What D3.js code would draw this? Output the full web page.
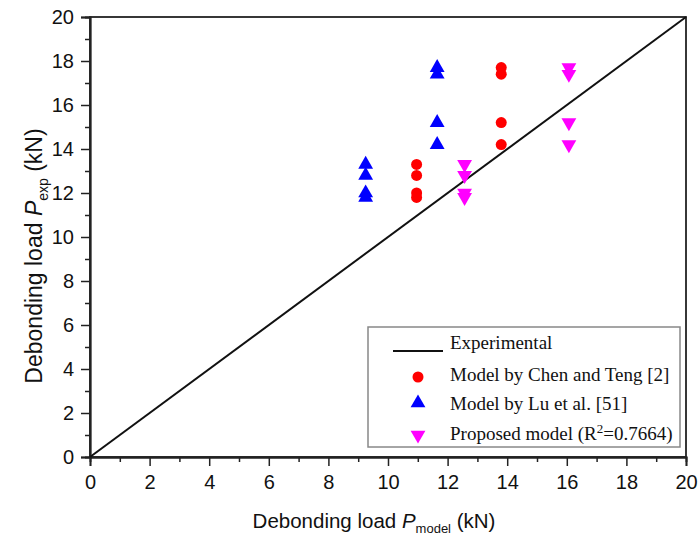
<!DOCTYPE html>
<html>
<head>
<meta charset="utf-8">
<script src="https://cdn.jsdelivr.net/npm/d3@7"></script>
<style>
  html, body { margin: 0; padding: 0; background: #fff; }
  svg { display: block; }
</style>
</head>
<body>
<svg id="chart" width="700" height="540"></svg>
<script>
// Experimental debonding loads (kN) for the eight specimens
const pExp = [13.3, 12.8, 12.0, 11.8, 17.7, 17.4, 15.2, 14.2];
// Predicted debonding loads (kN) from each model
const chenTeng = [10.96, 10.96, 10.96, 10.96, 13.8, 13.8, 13.8, 13.8];
const luEtAl   = [9.25, 9.25, 9.25, 9.25, 11.65, 11.65, 11.65, 11.65];
const proposed = [12.57, 12.57, 12.57, 12.57, 16.07, 16.07, 16.07, 16.07];
// Line of equality (experimental = predicted)
const equality = [[0, 0], [20, 20]];
const majorTicks = [0, 2, 4, 6, 8, 10, 12, 14, 16, 18, 20];
const minorTicks = d3.range(1, 20, 2);
const legendLabels = [
  "Experimental",
  "Model by Chen and Teng [2]",
  "Model by Lu et al. [51]",
  "Proposed model (R2=0.7664)"
];

const svg = d3.select("#chart");
const plotL = 90, plotR = 686, plotT = 17, plotB = 457;

const x = d3.scaleLinear().domain([0, 20]).range([plotL, plotR]);
const y = d3.scaleLinear().domain([0, 20]).range([plotB, plotT]);

const axisFont = "'Liberation Sans', Arial, sans-serif";
const legendFont = "'Liberation Serif', 'Times New Roman', serif";

// Frame
svg.append("rect")
  .attr("x", plotL).attr("y", plotT)
  .attr("width", plotR - plotL).attr("height", plotB - plotT)
  .attr("fill", "none").attr("stroke", "#222").attr("stroke-width", 1.8);

// Bottom axis: major ticks with labels, minor ticks without
svg.append("g").attr("transform", `translate(0,${plotB})`)
  .call(d3.axisBottom(x).tickValues(majorTicks).tickSize(9).tickPadding(9).tickFormat(d3.format("d")));
svg.append("g").attr("transform", `translate(0,${plotB})`)
  .call(d3.axisBottom(x).tickValues(minorTicks).tickSize(5).tickFormat(""));

svg.append("g").attr("transform", `translate(${plotL},0)`)
  .call(d3.axisLeft(y).tickValues(majorTicks).tickSize(9).tickPadding(7).tickFormat(d3.format("d")));
svg.append("g").attr("transform", `translate(${plotL},0)`)
  .call(d3.axisLeft(y).tickValues(minorTicks).tickSize(5).tickFormat(""));

svg.selectAll(".domain").attr("stroke", "#222").attr("stroke-width", 1.8);
svg.selectAll(".tick line").attr("stroke", "#222").attr("stroke-width", 1.5);
svg.selectAll(".tick text")
  .attr("font-family", axisFont).attr("font-size", 20).attr("fill", "#111");

// Axis titles
const xt = svg.append("text")
  .attr("x", 374).attr("y", 528)
  .attr("text-anchor", "middle")
  .attr("font-family", axisFont).attr("font-size", 20.5).attr("fill", "#111");
xt.append("tspan").text("Debonding load ");
xt.append("tspan").attr("font-style", "italic").text("P");
xt.append("tspan").attr("font-size", 13).attr("dy", 5).text("model");
xt.append("tspan").attr("dy", -5).text(" (kN)");

const yt = svg.append("text")
  .attr("transform", `translate(42,256) rotate(-90)`)
  .attr("text-anchor", "middle")
  .attr("font-family", axisFont).attr("font-size", 23).attr("fill", "#111");
yt.append("tspan").text("Debonding load ");
yt.append("tspan").attr("font-style", "italic").text("P");
yt.append("tspan").attr("font-size", 14).attr("dy", 6).text("exp");
yt.append("tspan").attr("dy", -6).text(" (kN)");

// Line of equality
const line = d3.line().x(d => x(d[0])).y(d => y(d[1]));
svg.append("path").datum(equality)
  .attr("d", line).attr("fill", "none")
  .attr("stroke", "#111").attr("stroke-width", 2);

// Markers
const triUp = d3.symbol().type(d3.symbolTriangle).size(95)();
const circle = d3.symbol().type(d3.symbolCircle).size(95)();

function series(preds, path, color, flip) {
  svg.append("g").selectAll("path")
    .data(preds.map((p, i) => [p, pExp[i]]))
    .join("path")
    .attr("d", path)
    .attr("transform", d => `translate(${x(d[0])},${y(d[1])})${flip ? " rotate(180)" : ""}`)
    .attr("fill", color);
}
series(chenTeng, circle, "#ff0000", false);
series(luEtAl, triUp, "#0000ff", false);
series(proposed, triUp, "#ff00ff", true);

// Legend
const lg = svg.append("g");
lg.append("rect")
  .attr("x", 368).attr("y", 327).attr("width", 312).attr("height", 120)
  .attr("fill", "#fff").attr("stroke", "#888").attr("stroke-width", 1.5);
const textY = [349, 381, 410, 440];
const markY = [351, 377, 403, 435];
lg.append("line")
  .attr("x1", 393).attr("x2", 443).attr("y1", markY[0]).attr("y2", markY[0])
  .attr("stroke", "#111").attr("stroke-width", 2);
lg.append("path").attr("d", circle).attr("transform", `translate(418,${markY[1]})`).attr("fill", "#ff0000");
lg.append("path").attr("d", triUp).attr("transform", `translate(418,${markY[2]})`).attr("fill", "#0000ff");
lg.append("path").attr("d", triUp).attr("transform", `translate(418,${markY[3]}) rotate(180)`).attr("fill", "#ff00ff");

legendLabels.forEach((label, i) => {
  const t = lg.append("text")
    .attr("x", 450).attr("y", textY[i])
    .attr("font-family", legendFont).attr("font-size", 19).attr("fill", "#111");
  if (i === 3) {
    t.append("tspan").text("Proposed model (R");
    t.append("tspan").attr("font-size", 13).attr("dy", -7).text("2");
    t.append("tspan").attr("dy", 7).text("=0.7664)");
  } else {
    t.text(label);
  }
});
</script>
</body>
</html>
